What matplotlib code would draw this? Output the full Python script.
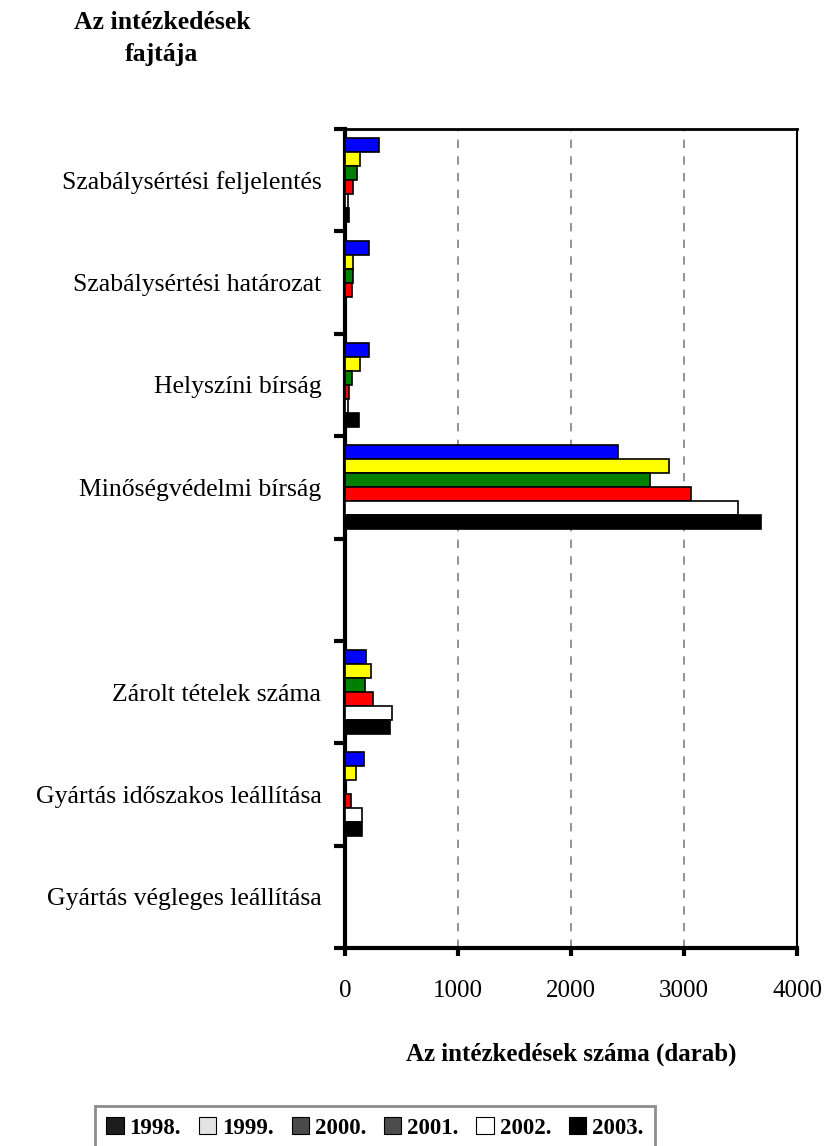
import numpy as np
import matplotlib.pyplot as plt
from matplotlib.patches import Patch

plt.rcParams['font.family'] = ['Liberation Serif', 'DejaVu Serif']

# categories, top to bottom ('' = empty slot)
categories = ["Szabálysértési feljelentés", "Szabálysértési határozat", "Helyszíni bírság",
              "Minőségvédelmi bírság", "", "Zárolt tételek száma",
              "Gyártás időszakos leállítása", "Gyártás végleges leállítása"]
years = ["1998.", "1999.", "2000.", "2001.", "2002.", "2003."]

v1998 = [300, 210, 210, 2420, 0, 190, 170, 0]
v1999 = [130, 70, 130, 2870, 0, 230, 95, 0]
v2000 = [110, 75, 60, 2700, 0, 180, 0, 0]
v2001 = [75, 60, 35, 3060, 0, 245, 55, 0]
v2002 = [25, 0, 30, 3480, 0, 415, 150, 0]
v2003 = [35, 0, 120, 3680, 0, 400, 150, 0]
series = [v1998, v1999, v2000, v2001, v2002, v2003]

bar_colors = ['#0000ff', '#ffff00', '#008000', '#ff0000', '#ffffff', '#000000']
legend_colors = ['#1d1d1d', '#e3e3e3', '#4b4b4b', '#4c4c4c', '#ffffff', '#000000']

fig = plt.figure(figsize=(8.26, 11.46), dpi=100)
ax = fig.add_axes([0.4177, 0.1728, 0.5472, 0.7146])

n = len(categories)
h = 0.137
pos = np.arange(n) + 0.5
for j, vals in enumerate(series):
    y = pos + (j - 2.5) * h
    ax.barh(y, vals, height=h, color=bar_colors[j], edgecolor='black', linewidth=1.2, zorder=3)

ax.set_ylim(n, 0)
ax.set_xlim(0, 4000)
ax.set_yticks(np.arange(n + 1))
ax.set_yticklabels([])
ax.set_yticks(pos, minor=True)
ax.set_yticklabels(categories, minor=True, fontsize=18.5)
ax.tick_params(axis='y', which='minor', length=0, pad=17)
ax.tick_params(axis='y', which='major', direction='out', length=8, width=3)
ax.set_xticks([0, 1000, 2000, 3000, 4000])
ax.tick_params(axis='x', direction='out', length=6, width=3, labelsize=18, pad=17)

for x in [1000, 2000, 3000]:
    ax.axvline(x, color='#808080', linestyle=(0, (5, 5)), linewidth=1.2, zorder=1)

ax.spines['left'].set_linewidth(3)
ax.spines['bottom'].set_linewidth(3)
ax.spines['top'].set_linewidth(2)
ax.spines['right'].set_linewidth(1.5)

ax.set_xlabel("Az intézkedések száma (darab)", fontsize=18, fontweight='bold', labelpad=29)

fig.text(0.196, 0.99, "Az intézkedések\nfajtája", ha='center', va='top', fontsize=18.5,
         fontweight='bold', linespacing=1.45)

handles = [Patch(facecolor=c, edgecolor='black', linewidth=0.8) for c in legend_colors]
leg = fig.legend(handles, years, loc='upper left', bbox_to_anchor=(0.115, 0.0349), ncol=6,
                 prop={'weight': 'bold', 'size': 16.5}, frameon=True, fancybox=False,
                 handlelength=0.75, handleheight=0.75, handletextpad=0.26, columnspacing=0.78,
                 borderpad=0.5, borderaxespad=0)
leg.get_frame().set_edgecolor('#707070')
leg.get_frame().set_linewidth(2)

fig.savefig("out.png", dpi=100)
